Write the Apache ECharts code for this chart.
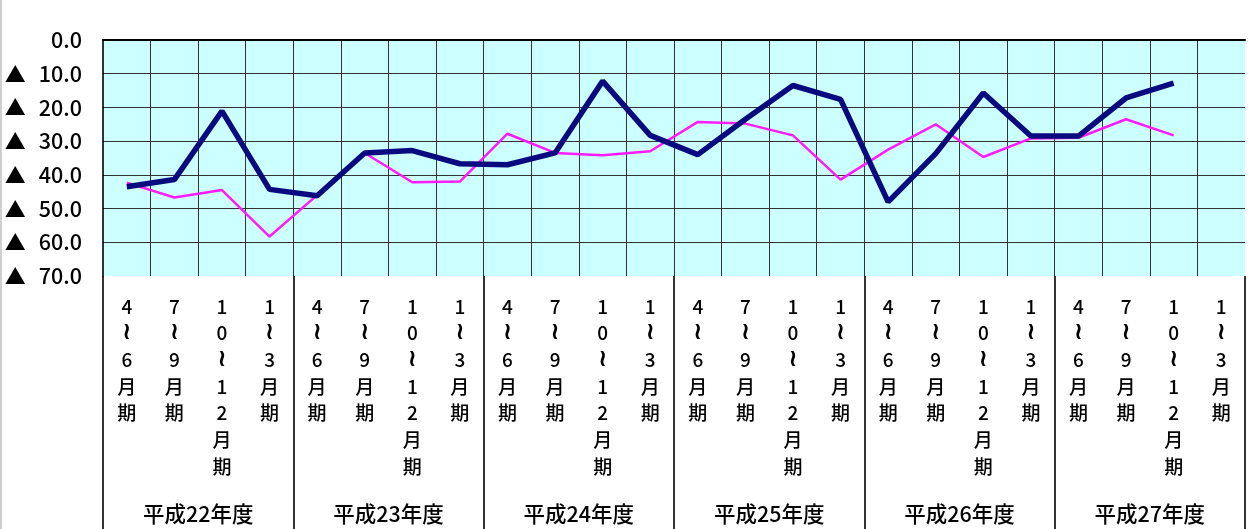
<!DOCTYPE html>
<html>
<head>
<meta charset="utf-8">
<script src="https://cdn.jsdelivr.net/npm/echarts@6/dist/echarts.min.js"></script>
<style>
  html, body { margin: 0; padding: 0; background: #ffffff; }
  #chart { position: absolute; left: 0; top: 0; width: 1256px; height: 529px; }
  #edge { position: absolute; left: 0; top: 0; width: 2px; height: 529px; background: #cfcfcf; }
</style>
</head>
<body>
<div id="chart"></div>
<div id="edge"></div>
<script>
// Quarter labels (vertical text) and fiscal-year group labels
const quarters = ['4～6月期', '7～9月期', '10～12月期', '1～3月期'];
const fiscalYears = ['平成22年度', '平成23年度', '平成24年度', '平成25年度', '平成26年度', '平成27年度'];
const yTicks = [0, 10, 20, 30, 40, 50, 60, 70];

// Values are shown as negatives (▲), plotted downward from 0
const seriesNavy = [43.5, 41.4, 21.1, 44.3, 46.2, 33.5, 32.8, 36.7, 37.0, 33.5, 12.2, 28.3,
                    34.0, 23.5, 13.5, 17.6, 48.0, 33.7, 15.7, 28.5, 28.5, 17.2, 12.8, null];
const seriesPink = [42.3, 46.7, 44.5, 58.3, 46.0, 33.5, 42.2, 42.0, 27.8, 33.5, 34.2, 33.0,
                    24.3, 24.8, 28.3, 41.4, 32.5, 25.0, 34.7, 29.2, 29.0, 23.5, 28.3, null];

// 24 quarter categories, one block of four per fiscal year
const categories = [];
fiscalYears.forEach(function (fy) {
  quarters.forEach(function (q) { categories.push(fy + '|' + q); });
});

// Stack the characters one per line; the wave dash gets its own rich style
function verticalText(s) {
  return s.split('').map(function (ch) {
    return ch === '～' ? '{w|≀}' : '{c|' + ch + '}';
  }).join('\n');
}

const FONT = '"Noto Sans CJK JP", "DejaVu Sans", sans-serif';

const chart = echarts.init(document.getElementById('chart'), null, { renderer: 'canvas' });

chart.setOption({
  animation: false,
  backgroundColor: '#ffffff',
  grid: {
    left: 103, top: 40, width: 1142, height: 236,
    show: true, backgroundColor: '#ccffff', borderWidth: 0
  },
  xAxis: [
    {
      type: 'category',
      data: categories,
      boundaryGap: true,
      position: 'bottom',
      axisLine: { show: false, onZero: false },
      axisTick: { show: false },
      axisLabel: {
        interval: 0,
        margin: 17,
        color: '#000',
        verticalAlign: 'top',
        formatter: function (v) { return verticalText(v.split('|')[1]); },
        rich: {
          c: { fontFamily: FONT, fontSize: 19, lineHeight: 26.7, color: '#000', fontWeight: 500 },
          w: { fontFamily: '"DejaVu Sans", sans-serif', fontSize: 24, lineHeight: 26.7,
               fontWeight: 'bold', color: '#000' }
        }
      },
      splitLine: { show: true, interval: 0, showMinLine: false, showMaxLine: false,
                   lineStyle: { color: '#333', width: 1 } }
    },
    {
      type: 'category',
      data: fiscalYears,
      boundaryGap: true,
      position: 'bottom',
      axisLine: { show: false, onZero: false },
      axisTick: { show: true, length: 253, lineStyle: { color: '#000', width: 1.6 } },
      axisLabel: {
        margin: 227,
        fontFamily: FONT,
        fontSize: 21.5,
        fontWeight: 500,
        color: '#000',
        verticalAlign: 'top'
      },
      splitLine: { show: false }
    },
    {
      type: 'category',
      data: fiscalYears,
      position: 'top',
      axisLine: { show: true, onZero: false, lineStyle: { color: '#000', width: 2 } },
      axisTick: { show: false },
      axisLabel: { show: false },
      splitLine: { show: false }
    }
  ],
  yAxis: {
    type: 'value',
    inverse: true,
    min: yTicks[0],
    max: yTicks[yTicks.length - 1],
    interval: 10,
    axisLine: { show: true, lineStyle: { color: '#000', width: 1.6 } },
    axisTick: { show: false },
    splitLine: { show: true, showMaxLine: false, lineStyle: { color: '#333', width: 1 } },
    axisLabel: {
      margin: 21,
      color: '#000',
      formatter: function (v) {
        return v === 0 ? '{n|0.0}' : '{t|▲}{n|' + v.toFixed(1) + '}';
      },
      rich: {
        t: { fontFamily: FONT, fontSize: 21, width: 34, align: 'left', color: '#000' },
        n: { fontFamily: FONT, fontSize: 21.5, fontWeight: 500, color: '#000' }
      }
    }
  },
  series: [
    {
      name: 'pink',
      type: 'line',
      xAxisIndex: 0,
      data: seriesPink,
      showSymbol: false,
      symbol: 'none',
      lineStyle: { color: '#ff1aff', width: 2.5 },
      z: 3
    },
    {
      name: 'navy',
      type: 'line',
      xAxisIndex: 0,
      data: seriesNavy,
      showSymbol: false,
      symbol: 'none',
      lineStyle: { color: '#0a0a80', width: 5.5 },
      z: 4
    }
  ]
});
</script>
</body>
</html>
